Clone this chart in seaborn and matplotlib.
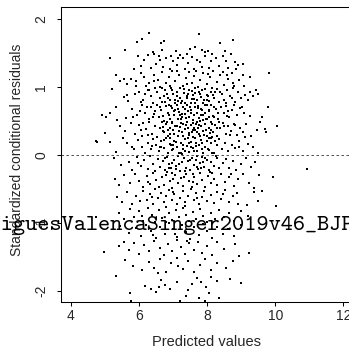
import matplotlib
matplotlib.use("Agg")
import matplotlib.pyplot as plt
import seaborn as sns
import pandas as pd

# (predicted value, standardized conditional residual) pairs, read by band of residual
band_top = [(6.29,1.80),(7.76,1.78),(6.10,1.70),(5.93,1.66),(6.73,1.67),(8.75,1.69),(8.38,1.65),
            (6.64,1.64),(7.65,1.59),(6.67,1.55),(7.49,1.56),(7.86,1.54),(8.03,1.53),(8.52,1.53),
            (5.58,1.55),(7.08,1.53),(7.95,1.52),(6.40,1.51)]
band_125 = [(5.15,1.42),(5.98,1.45),(6.15,1.39),(6.25,1.47),(6.45,1.48),(6.58,1.45),(6.80,1.43),
            (7.00,1.38),(7.20,1.47),(7.30,1.42),(7.45,1.35),(7.55,1.44),(7.70,1.40),(7.85,1.30),
            (7.95,1.45),(8.10,1.38),(8.25,1.42),(8.55,1.38),(8.70,1.49),(8.82,1.36),(8.90,1.32),
            (9.05,1.33),(6.35,1.28),(6.50,1.34),(6.70,1.30),(6.90,1.27),(7.10,1.32),(7.35,1.26),
            (7.60,1.27),(7.80,1.36),(8.05,1.28),(8.35,1.31),(8.60,1.28),(8.85,1.26),(6.05,1.31),
            (5.85,1.27),(6.62,1.40),(7.15,1.42),(7.42,1.48),(8.45,1.46),(6.95,1.45),(8.15,1.49)]
band_100 = [(5.31,1.17),(5.56,1.12),(5.44,1.09),(5.66,1.04),(6.15,1.14),(6.05,1.20),(6.30,1.06),
            (6.45,1.18),(6.55,1.10),(6.68,1.22),(6.78,1.05),(6.88,1.15),(6.98,1.24),(7.05,1.08),
            (7.18,1.17),(7.28,1.02),(7.38,1.13),(7.48,1.22),(7.55,1.06),(7.62,1.16),(7.72,1.00),
            (7.80,1.10),(7.88,1.21),(7.98,1.04),(8.08,1.14),(8.18,1.24),(8.28,1.07),(8.38,1.17),
            (8.50,1.03),(8.62,1.12),(8.72,1.21),(8.80,1.02),(8.92,1.10),(9.05,1.18),(9.25,1.15),
            (9.80,1.21),(6.20,1.02),(6.92,1.01),(7.42,1.04),(7.68,1.23),(8.45,1.22),(5.90,1.08),
            (6.62,1.00),(7.12,1.23),(8.02,1.19),(8.75,1.05),(5.75,1.11)]
band_075 = [(5.22,0.97),(5.87,0.89),(5.55,0.85),(6.00,0.93),(6.12,0.80),(6.25,0.96),(6.35,0.86),
            (6.42,0.77),(6.52,0.92),(6.60,0.83),(6.68,0.98),(6.75,0.78),(6.82,0.90),(6.90,0.81),
            (6.97,0.95),(7.05,0.76),(7.12,0.87),(7.20,0.98),(7.25,0.79),(7.32,0.91),(7.40,0.84),
            (7.46,0.96),(7.52,0.77),(7.58,0.88),(7.65,0.99),(7.70,0.80),(7.76,0.92),(7.82,0.85),
            (7.88,0.76),(7.94,0.97),(8.00,0.88),(8.06,0.79),(8.12,0.93),(8.20,0.83),(8.28,0.97),
            (8.35,0.78),(8.42,0.89),(8.50,0.81),(8.58,0.95),(8.66,0.86),(8.75,0.98),(8.82,0.78),
            (8.90,0.92),(8.98,0.84),(9.10,0.88),(9.20,0.80),(9.35,0.86),(9.48,0.89),(9.42,0.95),
            (6.05,0.78),(6.48,0.99),(6.72,0.87),(7.00,0.90),(7.36,0.76),(7.62,0.82),(7.98,0.80),
            (8.15,0.99),(8.55,0.76),(5.68,0.79),(6.18,0.90),(7.15,0.79),(7.85,0.95),(8.38,0.92),
            (6.95,0.99),(7.55,0.94)]
band_050 = [(4.92,0.59),(5.02,0.56),(5.15,0.61),(5.31,0.71),(5.36,0.51),(5.61,0.54),(5.80,0.68),
            (5.95,0.58),(6.08,0.73),(6.18,0.62),(6.28,0.52),(6.36,0.70),(6.44,0.60),(6.52,0.74),
            (6.58,0.55),(6.65,0.66),(6.72,0.50),(6.78,0.72),(6.85,0.61),(6.92,0.53),(6.98,0.69),
            (7.04,0.58),(7.10,0.74),(7.16,0.63),(7.22,0.52),(7.28,0.70),(7.34,0.60),(7.40,0.73),
            (7.46,0.55),(7.52,0.66),(7.58,0.51),(7.64,0.71),(7.70,0.62),(7.76,0.54),(7.82,0.68),
            (7.88,0.59),(7.94,0.73),(8.00,0.52),(8.06,0.64),(8.12,0.74),(8.18,0.57),(8.25,0.67),
            (8.32,0.53),(8.40,0.71),(8.48,0.61),(8.56,0.72),(8.64,0.55),(8.72,0.66),(8.80,0.74),
            (8.88,0.58),(8.96,0.69),(9.08,0.62),(9.25,0.57),(9.62,0.55),(9.78,0.71),(6.02,0.64),
            (6.40,0.56),(6.88,0.74),(7.20,0.59),(7.50,0.71),(7.80,0.50),(8.20,0.70),(8.60,0.64),
            (7.05,0.66),(7.62,0.58),(7.95,0.62),(6.62,0.70),(7.35,0.68),(8.05,0.56),(7.25,0.56),
            (7.72,0.72)]
band_025 = [(5.00,0.32),(5.45,0.42),(5.60,0.35),(5.75,0.47),(5.88,0.30),(6.00,0.44),(6.10,0.27),
            (6.20,0.38),(6.30,0.49),(6.38,0.31),(6.46,0.43),(6.54,0.26),(6.60,0.39),(6.67,0.48),
            (6.74,0.33),(6.80,0.45),(6.86,0.28),(6.92,0.40),(6.98,0.49),(7.04,0.30),(7.10,0.42),
            (7.16,0.35),(7.22,0.47),(7.28,0.27),(7.34,0.38),(7.40,0.49),(7.46,0.32),(7.52,0.44),
            (7.58,0.26),(7.64,0.37),(7.70,0.48),(7.76,0.31),(7.82,0.42),(7.88,0.35),(7.94,0.46),
            (8.00,0.28),(8.06,0.40),(8.12,0.49),(8.18,0.33),(8.24,0.44),(8.30,0.27),(8.38,0.39),
            (8.46,0.47),(8.54,0.30),(8.62,0.42),(8.70,0.35),(8.78,0.46),(8.86,0.29),(8.95,0.40),
            (9.05,0.33),(9.15,0.45),(9.30,0.28),(9.55,0.48),(9.70,0.38),(9.73,0.33),(10.04,0.42),
            (9.45,0.36),(6.25,0.29),(6.70,0.41),(7.00,0.36),(7.30,0.45),(7.60,0.40),(7.90,0.29),
            (8.10,0.37),(8.50,0.43),(7.15,0.28),(7.45,0.40),(7.75,0.44),(8.35,0.48),(6.85,0.37),
            (7.55,0.33),(8.15,0.26)]
band_000 = [(4.73,0.20),(4.77,0.19),(5.15,0.19),(5.31,0.04),(5.66,0.17),(5.85,0.08),(5.98,0.22),
            (6.08,0.12),(6.18,0.03),(6.26,0.18),(6.34,0.09),(6.42,0.23),(6.50,0.14),(6.58,0.05),
            (6.65,0.20),(6.72,0.10),(6.80,0.24),(6.86,0.02),(6.92,0.16),(6.98,0.07),(7.04,0.21),
            (7.10,0.12),(7.16,0.03),(7.22,0.18),(7.28,0.08),(7.34,0.23),(7.40,0.13),(7.46,0.04),
            (7.52,0.19),(7.58,0.10),(7.64,0.24),(7.70,0.06),(7.76,0.15),(7.82,0.22),(7.88,0.02),
            (7.94,0.12),(8.00,0.20),(8.06,0.07),(8.12,0.17),(8.20,0.03),(8.28,0.14),(8.36,0.23),
            (8.44,0.09),(8.52,0.18),(8.62,0.05),(8.72,0.15),(8.82,0.10),(8.92,0.21),(9.05,0.06),
            (9.20,0.16),(9.35,0.12),(9.50,0.02),(7.00,0.15),(7.48,0.17),(7.85,0.09),(6.60,0.11),
            (7.25,0.01),(8.05,0.25),(6.90,0.25),(7.68,0.17)]
band_m025 = [(5.25,-0.05),(5.48,-0.15),(5.70,-0.10),(5.80,-0.22),(5.95,-0.03),(6.05,-0.17),
             (6.15,-0.08),(6.25,-0.21),(6.32,-0.02),(6.40,-0.13),(6.48,-0.24),(6.55,-0.06),
             (6.62,-0.18),(6.70,-0.09),(6.76,-0.23),(6.82,-0.03),(6.88,-0.14),(6.95,-0.20),
             (7.02,-0.07),(7.08,-0.16),(7.14,-0.02),(7.20,-0.24),(7.26,-0.11),(7.32,-0.05),
             (7.38,-0.19),(7.44,-0.09),(7.50,-0.22),(7.56,-0.04),(7.62,-0.15),(7.68,-0.08),
             (7.74,-0.21),(7.80,-0.12),(7.86,-0.03),(7.92,-0.18),(7.98,-0.07),(8.05,-0.23),
             (8.12,-0.10),(8.20,-0.16),(8.28,-0.04),(8.36,-0.20),(8.45,-0.12),(8.55,-0.06),
             (8.65,-0.19),(8.75,-0.09),(8.85,-0.22),(8.98,-0.14),(9.15,-0.05),(9.30,-0.18),
             (10.92,-0.21),(9.40,-0.10),(6.98,-0.12),(7.35,-0.24),(7.70,-0.02)]
band_m050 = [(5.30,-0.35),(5.40,-0.45),(5.55,-0.30),(5.72,-0.42),(5.88,-0.28),(6.00,-0.38),
             (6.12,-0.48),(6.22,-0.31),(6.32,-0.43),(6.42,-0.27),(6.50,-0.37),(6.58,-0.47),
             (6.66,-0.33),(6.74,-0.44),(6.82,-0.26),(6.90,-0.39),(6.98,-0.49),(7.06,-0.30),
             (7.14,-0.41),(7.22,-0.34),(7.30,-0.46),(7.38,-0.28),(7.46,-0.39),(7.54,-0.48),
             (7.62,-0.32),(7.70,-0.43),(7.78,-0.27),(7.86,-0.37),(7.94,-0.47),(8.02,-0.31),
             (8.10,-0.42),(8.20,-0.35),(8.30,-0.45),(8.40,-0.29),(8.52,-0.40),(8.65,-0.33),
             (8.78,-0.46),(8.90,-0.36),(9.05,-0.28),(9.22,-0.42),(9.38,-0.49),(9.52,-0.30),
             (9.92,-0.32),(7.00,-0.36),(7.58,-0.40),(8.15,-0.27)]
band_m075 = [(5.35,-0.62),(5.50,-0.70),(5.65,-0.55),(5.78,-0.72),(5.90,-0.60),(6.02,-0.68),
             (6.12,-0.53),(6.22,-0.66),(6.32,-0.58),(6.40,-0.73),(6.48,-0.51),(6.56,-0.64),
             (6.64,-0.56),(6.72,-0.70),(6.80,-0.61),(6.88,-0.52),(6.96,-0.67),(7.04,-0.58),
             (7.12,-0.73),(7.20,-0.63),(7.28,-0.54),(7.36,-0.69),(7.44,-0.60),(7.52,-0.51),
             (7.60,-0.66),(7.68,-0.57),(7.76,-0.72),(7.84,-0.62),(7.92,-0.53),(8.00,-0.68),
             (8.10,-0.59),(8.20,-0.71),(8.30,-0.55),(8.40,-0.65),(8.52,-0.52),(8.64,-0.69),
             (8.76,-0.60),(8.90,-0.72),(9.16,-0.74),(9.38,-0.55),(9.48,-0.68),(9.62,-0.54),
             (10.02,-0.75),(7.00,-0.55),(7.70,-0.63)]
band_m100 = [(4.73,-0.91),(5.40,-0.85),(5.55,-0.95),(5.72,-0.80),(5.85,-0.92),(6.00,-0.83),
             (6.12,-0.97),(6.25,-0.78),(6.38,-0.88),(6.48,-0.99),(6.58,-0.81),(6.68,-0.93),
             (6.78,-0.77),(6.88,-0.86),(6.98,-0.96),(7.08,-0.82),(7.18,-0.91),(7.28,-0.79),
             (7.38,-0.89),(7.48,-0.98),(7.58,-0.84),(7.68,-0.94),(7.78,-0.80),(7.88,-0.90),
             (7.98,-0.99),(8.10,-0.85),(8.22,-0.95),(8.35,-0.81),(8.50,-0.92),(8.65,-0.86),
             (8.80,-0.97),(9.00,-0.83),(9.20,-0.90),(6.80,-0.99),(7.35,-0.76)]
band_m125 = [(5.45,-1.05),(5.70,-1.15),(5.90,-1.08),(6.05,-1.20),(6.20,-1.03),(6.35,-1.12),
             (6.50,-1.22),(6.62,-1.06),(6.75,-1.17),(6.88,-1.01),(7.00,-1.10),(7.12,-1.21),
             (7.25,-1.04),(7.38,-1.14),(7.50,-1.24),(7.62,-1.07),(7.75,-1.18),(7.88,-1.02),
             (8.00,-1.12),(8.15,-1.22),(8.30,-1.06),(8.45,-1.16),(8.62,-1.09),(8.80,-1.20),
             (9.00,-1.04),(7.05,-1.16)]
band_m150 = [(4.96,-1.43),(5.40,-1.35),(5.55,-1.28),(5.70,-1.40),(5.85,-1.30),(6.00,-1.46),
             (6.15,-1.33),(6.30,-1.42),(6.45,-1.27),(6.60,-1.38),(6.72,-1.48),(6.85,-1.31),
             (6.98,-1.41),(7.10,-1.26),(7.22,-1.36),(7.35,-1.46),(7.48,-1.30),(7.60,-1.40),
             (7.72,-1.28),(7.85,-1.44),(8.00,-1.34),(8.15,-1.47),(8.30,-1.29),(8.50,-1.39),
             (8.82,-1.32),(8.94,-1.49),(9.22,-1.45),(7.40,-1.27)]
band_m175 = [(5.83,-1.64),(5.60,-1.55),(6.10,-1.70),(6.28,-1.58),(6.45,-1.67),(6.62,-1.53),
             (6.80,-1.72),(6.95,-1.60),(7.10,-1.52),(7.28,-1.68),(7.45,-1.57),(7.62,-1.73),
             (7.78,-1.62),(7.95,-1.54),(8.10,-1.69),(8.30,-1.59),(8.55,-1.66),(8.75,-1.56),
             (6.55,-1.74),(7.15,-1.64)]
band_bottom = [(5.31,-1.79),(5.73,-2.04),(5.75,-2.16),(6.16,-1.93),(6.35,-1.98),(6.49,-2.02),
               (6.58,-1.94),(6.77,-1.92),(6.92,-1.97),(7.10,-1.88),(7.37,-2.08),(7.45,-1.99),
               (7.70,-1.82),(7.75,-2.11),(7.82,-1.87),(7.96,-1.95),(8.06,-2.03),(8.12,-1.80),
               (8.30,-1.86),(8.35,-2.11),(8.68,-1.83),(8.99,-1.89),(7.20,-2.16),(7.95,-2.16),
               (6.65,-1.84),(7.55,-1.90)]
core_center = [(6.63,0.12),(6.71,0.57),(6.77,-0.05),(6.84,0.83),(6.91,0.31),(6.97,-0.27),(7.02,0.64),
               (7.07,0.19),(7.11,0.93),(7.17,-0.13),(7.21,0.41),(7.24,0.76),(7.29,0.15),(7.33,-0.33),
               (7.37,0.54),(7.41,0.87),(7.44,0.24),(7.49,-0.07),(7.53,0.62),(7.57,0.36),(7.61,0.05),
               (7.63,0.91),(7.67,0.45),(7.71,-0.18),(7.74,0.69),(7.79,0.27),(7.83,0.58),(7.87,-0.11),
               (7.91,0.81),(7.96,0.37),(8.01,0.09),(8.04,0.66),(8.09,-0.25),(8.13,0.46),(8.17,0.88),
               (8.22,0.21),(8.26,-0.02),(8.31,0.61),(6.69,0.35),(6.75,0.95),(6.81,0.49),(6.89,-0.19),
               (6.94,0.72),(7.00,0.08),(7.06,0.43),(7.13,0.52),(7.19,0.84),(7.26,0.33),(7.31,0.97),
               (7.36,0.06),(7.43,0.65),(7.47,0.29),(7.55,0.82),(7.59,-0.28),(7.66,0.13),(7.73,0.39),
               (7.78,0.89),(7.84,0.18),(7.89,0.51),(7.93,-0.04),(7.99,0.74),(8.07,0.32),(8.14,0.03),
               (8.19,0.55),(8.24,0.93),(6.66,0.78),(6.73,0.22),(6.79,-0.30),(6.87,0.59),(6.93,0.14),
               (7.09,-0.21),(7.15,0.68),(7.23,0.02),(7.39,0.44),(7.51,0.11),(7.65,0.77),(7.69,0.34),
               (7.81,-0.20),(7.97,0.53),(8.03,0.86),(8.11,0.24),(8.28,0.40),(7.27,0.60),(7.45,0.90),
               (7.58,0.47),(7.05,0.80),(6.96,0.47),(7.85,0.66)]
core_sides = [(5.52,0.25),(5.64,0.88),(5.78,0.12),(5.83,0.55),(5.92,1.02),(6.06,0.36),(6.13,0.47),
              (6.22,0.71),(6.29,0.95),(6.37,0.13),(6.44,1.08),(6.47,0.64),(5.96,-0.12),(6.27,-0.40),
              (6.39,-0.62),(8.58,0.57),(8.67,0.29),(8.74,0.83),(8.83,0.44),(8.93,0.12),(9.02,0.71),
              (9.12,0.26),(9.27,0.93),(8.69,-0.29),(8.87,-0.57),(9.08,1.02),(8.57,1.18),(8.46,-0.58),
              (6.08,-0.90),(6.42,-1.18)]

x_ticks = [4, 6, 8, 10, 12]
y_ticks = [-2, -1, 0, 1, 2]
x_label = "Predicted values"
y_label = "Standardized conditional residuals"
overlay_text = "RodriguesValencaSinger2019v46_BJPS"

bands = [band_top, band_125, band_100, band_075, band_050, band_025, band_000, band_m025,
         band_m050, band_m075, band_m100, band_m125, band_m150, band_m175, band_bottom,
         core_center, core_sides]
rows = [p for b in bands for p in b]
df = pd.DataFrame(rows, columns=["pred", "resid"])

sns.set_style("ticks")
plt.rcParams["font.family"] = ["Liberation Sans", "DejaVu Sans"]

W, H = 349, 352
fig = plt.figure(figsize=(W / 100, H / 100), dpi=100)
left_px, right_px, top_px, bot_px = 60.7, 357.0, 7.3, 302.0
ax = fig.add_axes([left_px / W, 1 - bot_px / H, (right_px - left_px) / W, (bot_px - top_px) / H])

sns.scatterplot(data=df, x="pred", y="resid", ax=ax, s=0.7, marker="s",
                color="black", linewidth=0, legend=False)
ax.axhline(0, color="#333333", lw=0.6, ls=(0, (3, 3)))

ax.set_xlim(3.70, 3.70 + (right_px - left_px) / 34.07)
ax.set_ylim(-2.168, 2.172)
ax.set_xticks(x_ticks)
ax.set_yticks(y_ticks)
ax.set_xticklabels([str(t) for t in x_ticks])
ax.set_yticklabels([str(t) for t in y_ticks], rotation=90, va="center")
ax.tick_params(axis="both", length=2.9, width=0.75, labelsize=10, color="black")
ax.tick_params(axis="x", pad=2.5)
ax.tick_params(axis="y", pad=6)
for s in ax.spines.values():
    s.set_linewidth(0.75)
    s.set_color("black")
ax.set_xlabel("")
ax.set_ylabel("")

fig.text(207 / W, 1 - 346 / H, x_label, ha="center", va="baseline", fontsize=10.5)
fig.text(17 / W, 1 - 150 / H, y_label, ha="center", va="center", rotation=90, fontsize=10)

fig.text(-47.8 / W, 1 - 230 / H, overlay_text, ha="left", va="baseline",
         fontfamily="cmtt10", fontsize=16.7, color="black")

fig.savefig("out.png", dpi=100)
